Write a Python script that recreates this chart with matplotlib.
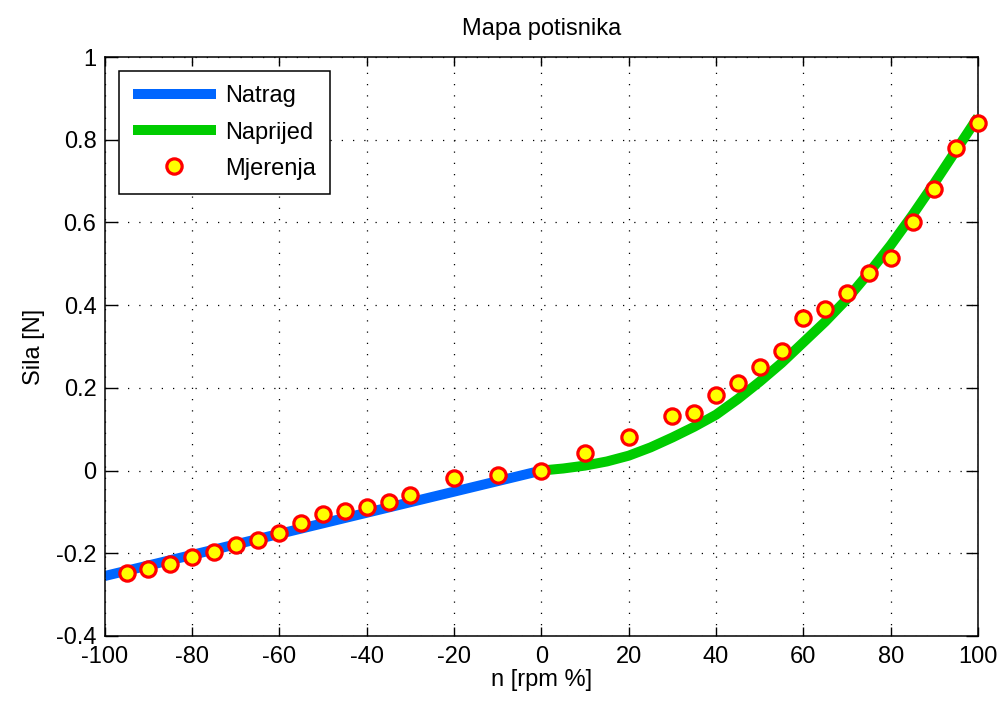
import matplotlib
matplotlib.use("Agg")
import matplotlib.pyplot as plt

# measured points (rpm %, force N)
n_meas = [-95, -90, -85, -80, -75, -70, -65, -60, -55, -50, -45, -40, -35, -30, -20, -10, 0,
          10, 20, 30, 35, 40, 45, 50, 55, 60, 65, 70, 75, 80, 85, 90, 95, 100]
f_meas = [-0.247, -0.237, -0.227, -0.209, -0.198, -0.179, -0.168, -0.151, -0.127, -0.106,
          -0.097, -0.087, -0.077, -0.058, -0.019, -0.010, 0.0,
          0.043, 0.082, 0.131, 0.139, 0.183, 0.211, 0.250, 0.288, 0.370, 0.390, 0.429,
          0.477, 0.514, 0.600, 0.681, 0.781, 0.840]

# fitted curve, reverse direction
n_back = [-100, -50, 0]
f_back = [-0.255, -0.1275, 0.0]

# fitted curve, forward direction
n_fwd = [0, 5, 10, 15, 20, 25, 30, 35, 40, 45, 50, 55, 60, 65, 70, 75, 80, 85, 90, 95, 100]
f_fwd = [0.0, 0.005, 0.012, 0.022, 0.036, 0.056, 0.080, 0.106, 0.135, 0.173, 0.215,
         0.260, 0.310, 0.360, 0.415, 0.478, 0.545, 0.618, 0.695, 0.775, 0.855]

plt.rcParams['font.family'] = ['Liberation Sans', 'DejaVu Sans']
plt.rcParams['axes.unicode_minus'] = False
fs = 17

fig = plt.figure(figsize=(9.98, 7.09), dpi=100)
ax = fig.add_axes([0.105, 0.103, 0.875, 0.8166])

ax.plot(n_back, f_back, color='#0066ff', lw=7.2, solid_capstyle='butt', label='Natrag')
ax.plot(n_fwd, f_fwd, color='#00cc00', lw=7.2, solid_capstyle='butt',
        solid_joinstyle='round', label='Naprijed')
ax.plot(n_meas, f_meas, 'o', ms=11, mfc='#ffff00', mec='#ff0000', mew=2.3,
        label='Mjerenja', clip_on=False, zorder=5)

ax.set_xlim(-100, 100)
ax.set_ylim(-0.4, 1.0)
ax.set_xticks(range(-100, 101, 20))
ax.set_yticks([-0.4, -0.2, 0, 0.2, 0.4, 0.6, 0.8, 1])
ax.set_yticklabels(['-0.4', '-0.2', '0', '0.2', '0.4', '0.6', '0.8', '1'])
ax.grid(True, color='black', linestyle=(0, (1, 8)), linewidth=0.9)

ax.tick_params(axis='both', direction='in', top=True, right=True,
               labelsize=fs, width=1, color='black')
ax.tick_params(axis='x', length=6.5, pad=7)
ax.tick_params(axis='y', length=9, pad=6)
for s in ax.spines.values():
    s.set_linewidth(1.1)

ax.set_title('Mapa potisnika', fontsize=fs, pad=16)
ax.set_xlabel('n [rpm %]', fontsize=fs, labelpad=1)
ax.set_ylabel('Sila [N]', fontsize=fs, labelpad=8)

leg = ax.legend(loc='upper left', fontsize=fs, frameon=True, fancybox=False,
                edgecolor='black', framealpha=1, handlelength=3.5,
                handletextpad=0.4, labelspacing=0.6, borderpad=0.6,
                borderaxespad=0.6)
leg.get_frame().set_linewidth(1.1)

fig.savefig('out.png', dpi=100)
